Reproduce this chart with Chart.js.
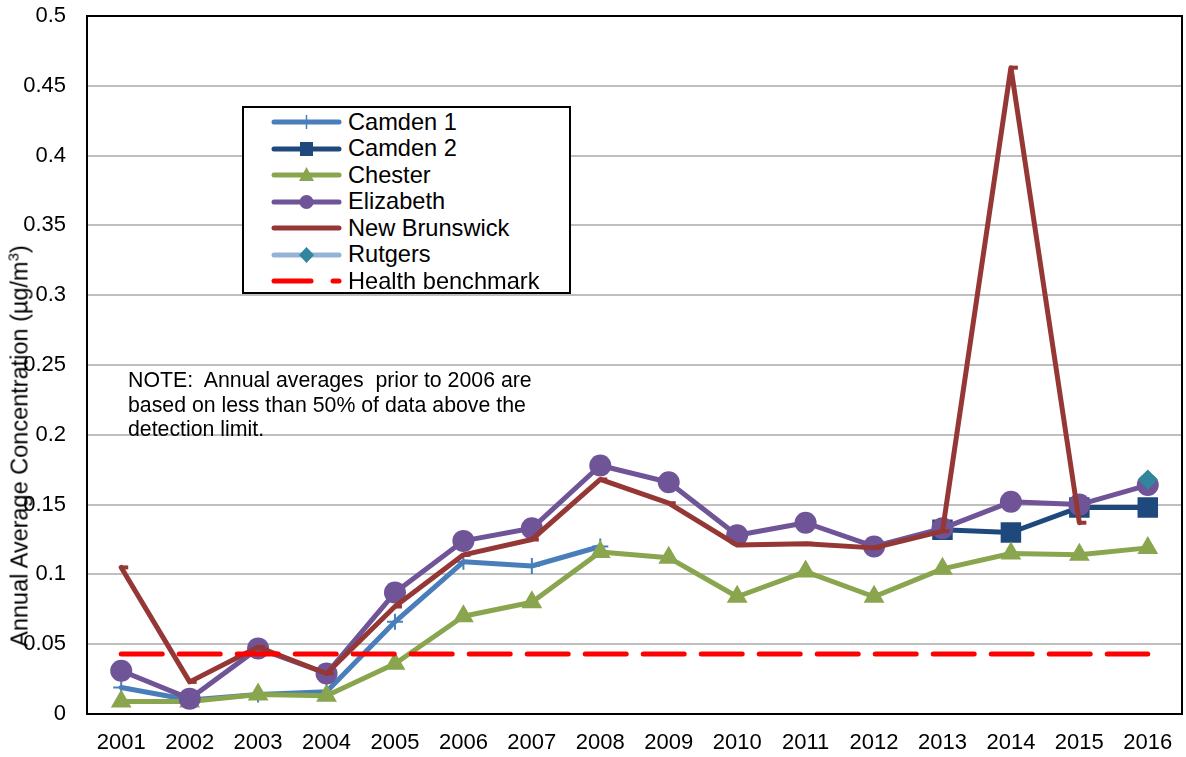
<!DOCTYPE html>
<html>
<head>
<meta charset="utf-8">
<script src="https://cdn.jsdelivr.net/npm/chart.js@4/dist/chart.umd.min.js"></script>
<style>
html,body{margin:0;padding:0;background:#fff;overflow:hidden;}
#wrap{position:relative;width:1186px;height:757px;overflow:hidden;font-family:"Liberation Sans",Arial,sans-serif;}
#c{position:absolute;left:0;top:0;}
#ytitle{position:absolute;left:20px;top:446px;transform:translate(-50%,-50%) rotate(-90deg);white-space:nowrap;font-size:23.5px;color:#000;}
#ytitle sup{font-size:15px;vertical-align:9px;line-height:0;}
#note{position:absolute;left:128px;top:368px;font-size:21.3px;line-height:24.5px;color:#000;white-space:pre;}
#legend{position:absolute;left:242px;top:106px;width:325px;height:184px;border:2px solid #000;background:#fff;}
.row{position:absolute;left:0;height:26px;display:flex;align-items:center;}
.row svg{margin-left:27px;}
.row span{margin-left:6px;font-size:23.6px;color:#000;white-space:nowrap;}
</style>
</head>
<body>
<div id="wrap">
<canvas id="c" width="1186" height="757"></canvas>
<div id="ytitle">Annual Average Concentration (µg/m<sup>3</sup>)</div>
<div id="note">NOTE:  Annual averages  prior to 2006 are
based on less than 50% of data above the
detection limit.</div>
<div id="legend"></div>
</div>
<script>
const years = ["2001","2002","2003","2004","2005","2006","2007","2008","2009","2010","2011","2012","2013","2014","2015","2016"];
const camden1 = [0.019,0.010,0.014,0.016,0.066,0.109,0.106,0.120,null,null,null,null,null,null,null,null];
const camden2 = [null,null,null,null,null,null,null,null,null,null,null,null,0.132,0.130,0.148,0.148];
const chester = [0.009,0.009,0.014,0.013,0.036,0.070,0.080,0.116,0.112,0.084,0.102,0.084,0.104,0.115,0.114,0.119];
const elizabeth = [0.031,0.011,0.047,0.029,0.087,0.124,0.133,0.178,0.166,0.128,0.137,0.120,0.133,0.152,0.150,0.164];
const newBrunswick = [0.105,0.023,0.048,0.029,0.077,0.114,0.125,0.168,0.151,0.121,0.122,0.119,0.131,0.463,0.137,null];
const rutgers = [null,null,null,null,null,null,null,null,null,null,null,null,null,null,null,0.168];
const benchmark = [0.043,0.043,0.043,0.043,0.043,0.043,0.043,0.043,0.043,0.043,0.043,0.043,0.043,0.043,0.043,0.043];
const yTicks = [0,0.05,0.1,0.15,0.2,0.25,0.3,0.35,0.4,0.45,0.5];

const C1 = "#4A7EBB", C2 = "#1F497D", CH = "#89A54E", EL = "#6F5497", NB = "#953735", RL = "#95B3D7", RM = "#31859C", HB = "#FF0000";

const datasets = [
  {label:"Camden 1", data:camden1, borderColor:C1, backgroundColor:C1, borderWidth:5, pointStyle:"cross", pointRadius:8, pointBorderWidth:2, pointBorderColor:C1, order:6},
  {label:"Camden 2", data:camden2, borderColor:C2, backgroundColor:C2, borderWidth:5, pointStyle:"rect", pointRadius:14.5, pointBorderWidth:0, order:5},
  {label:"Chester", data:chester, borderColor:CH, backgroundColor:CH, borderWidth:5, pointStyle:"triangle", pointRadius:12, pointBorderWidth:0, order:4},
  {label:"Elizabeth", data:elizabeth, borderColor:EL, backgroundColor:EL, borderWidth:5, pointStyle:"circle", pointRadius:11, pointBorderWidth:0, order:3},
  {label:"New Brunswick", data:newBrunswick, borderColor:NB, backgroundColor:NB, borderWidth:5, pointStyle:"dash", pointRadius:7, pointBorderWidth:4, pointBorderColor:NB, order:2},
  {label:"Rutgers", data:rutgers, borderColor:RL, backgroundColor:RM, borderWidth:5, pointStyle:"rectRot", pointRadius:10, pointBorderWidth:0, order:1},
  {label:"Health benchmark", data:benchmark, borderColor:HB, backgroundColor:HB, borderWidth:5, borderDash:[41,17], pointRadius:0, order:0}
];

const frame = {
  id:"frame",
  afterDatasetsDraw(chart){
    const a = chart.chartArea, ctx = chart.ctx;
    ctx.save();
    ctx.strokeStyle = "#000"; ctx.lineWidth = 2;
    ctx.strokeRect(a.left, a.top, a.right - a.left, a.bottom - a.top);
    ctx.restore();
  }
};

new Chart(document.getElementById("c"), {
  type:"line",
  data:{labels:years, datasets:datasets},
  options:{
    responsive:false, animation:false, devicePixelRatio:1,
    layout:{autoPadding:false, padding:{left:0,right:4,top:16,bottom:0}},
    plugins:{legend:{display:false}, tooltip:{enabled:false}},
    elements:{line:{tension:0, borderCapStyle:"round", borderJoinStyle:"round"}},
    scales:{
      x:{type:"category", offset:true,
        grid:{display:false, drawTicks:false},
        border:{display:false},
        ticks:{color:"#000", font:{family:"Liberation Sans", size:22}, padding:16, maxRotation:0, autoSkip:false},
        afterFit(s){ s.height = 43; s.paddingLeft = 0; s.paddingRight = 0; }
      },
      y:{type:"linear", min:0, max:0.5,
        afterBuildTicks(s){ s.ticks = yTicks.map(v => ({value:v})); },
        grid:{color:"#BFBFBF", lineWidth:2, drawTicks:false},
        border:{display:false},
        ticks:{color:"#000", font:{family:"Liberation Sans", size:22}, padding:21,
          callback:(v) => String(v)},
        afterFit(s){ s.width = 87; s.paddingTop = 0; s.paddingBottom = 0; }
      }
    }
  },
  plugins:[frame]
});

// HTML legend
const legendItems = [
  {t:"Camden 1", line:C1, m:"cross", mc:C1},
  {t:"Camden 2", line:C2, m:"rect", mc:C2},
  {t:"Chester", line:CH, m:"tri", mc:CH},
  {t:"Elizabeth", line:EL, m:"circle", mc:EL},
  {t:"New Brunswick", line:NB, m:"none", mc:NB},
  {t:"Rutgers", line:RL, m:"diamond", mc:RM},
  {t:"Health benchmark", line:HB, m:"dash", mc:HB}
];
const lg = document.getElementById("legend");
legendItems.forEach((it, i) => {
  const row = document.createElement("div");
  row.className = "row";
  row.style.top = (1 + i * 26.5) + "px";
  let lineSvg;
  if (it.m === "dash") {
    lineSvg = `<line x1="3" y1="12" x2="40" y2="12" stroke="${it.line}" stroke-width="5" stroke-linecap="round"/><line x1="62" y1="12" x2="68" y2="12" stroke="${it.line}" stroke-width="5" stroke-linecap="round"/>`;
  } else {
    lineSvg = `<line x1="3" y1="12" x2="68" y2="12" stroke="${it.line}" stroke-width="5" stroke-linecap="round"/>`;
  }
  let mk = "";
  if (it.m === "cross") mk = `<line x1="35.5" y1="5" x2="35.5" y2="19" stroke="${it.mc}" stroke-width="1.5"/>`;
  if (it.m === "rect") mk = `<rect x="29" y="5" width="13" height="14" fill="${it.mc}"/>`;
  if (it.m === "tri") mk = `<polygon points="35.5,4 43,18 28,18" fill="${it.mc}"/>`;
  if (it.m === "circle") mk = `<circle cx="35.5" cy="12" r="7" fill="${it.mc}"/>`;
  if (it.m === "diamond") mk = `<polygon points="35.5,4 43,12 35.5,20 28,12" fill="${it.mc}"/>`;
  row.innerHTML = `<svg width="71" height="24" viewBox="0 0 71 24">${lineSvg}${mk}</svg><span>${it.t}</span>`;
  lg.appendChild(row);
});
</script>
</body>
</html>
